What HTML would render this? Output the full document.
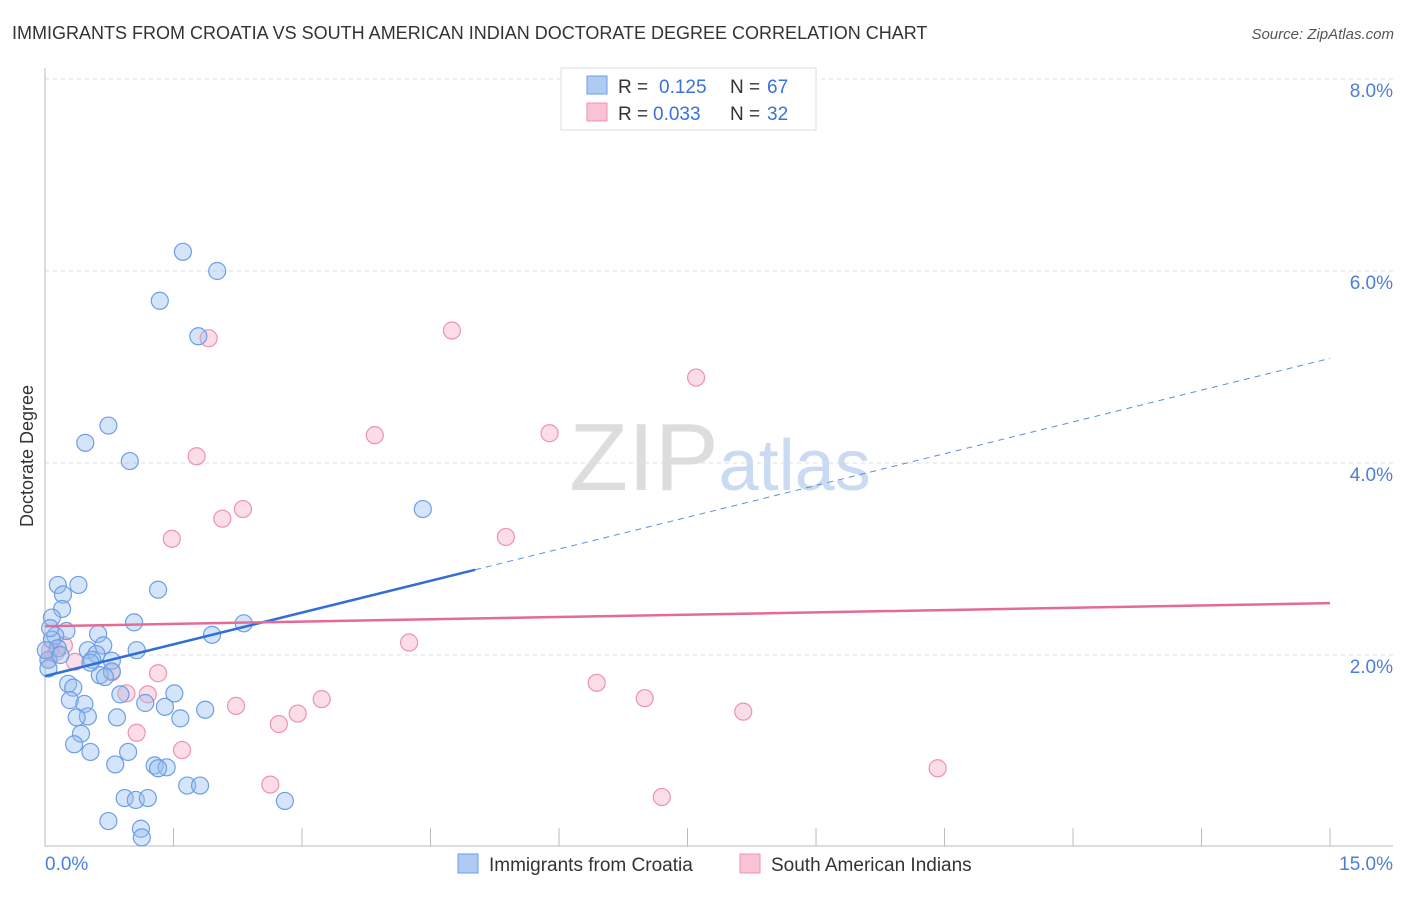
<!DOCTYPE html>
<html><head><meta charset="utf-8">
<style>
body{margin:0;background:#fff;font-family:"Liberation Sans",sans-serif;}
svg text{font-family:"Liberation Sans",sans-serif;}
</style></head>
<body>
<svg id="chart" width="1406" height="892" viewBox="0 0 1406 892" xmlns="http://www.w3.org/2000/svg">
<text x="12" y="39" font-size="18" fill="#333">IMMIGRANTS FROM CROATIA VS SOUTH AMERICAN INDIAN DOCTORATE DEGREE CORRELATION CHART</text>
<text x="1394" y="39" font-size="15" fill="#555" font-style="italic" text-anchor="end">Source: ZipAtlas.com</text>
<text x="720" y="490" font-size="96" text-anchor="middle" fill="#ddd" font-family="Liberation Serif"><tspan fill="#ddd">ZIP</tspan><tspan fill="#c9daf2" font-family="Liberation Sans" font-size="72">atlas</tspan></text>
<g id="grid"></g>
<g id="axes"></g>
<g id="pinkPts"></g>
<g id="bluePts"></g>
<g id="trends"></g>
<text transform="translate(33,456) rotate(-90)" font-size="18" fill="#333" text-anchor="middle">Doctorate Degree</text>
<g>
<rect x="561" y="68" width="255" height="62" fill="#fff" stroke="#ddd"/>
<rect x="587" y="76" width="20" height="18" fill="#aecbf3" stroke="#6d9ee6"/>
<rect x="587" y="103" width="20" height="18" fill="#f8c3d3" stroke="#ee92b0"/>
<text x="618" y="93" font-size="19" fill="#333">R = </text><text x="659" y="93" font-size="19" fill="#3a72d8">0.125</text>
<text x="730" y="93" font-size="19" fill="#333">N = </text><text x="767" y="93" font-size="19" fill="#3a72d8">67</text>
<text x="618" y="120" font-size="19" fill="#333">R = </text><text x="653" y="120" font-size="19" fill="#3a72d8">0.033</text>
<text x="730" y="120" font-size="19" fill="#333">N = </text><text x="767" y="120" font-size="19" fill="#3a72d8">32</text>
</g>
<g>
<rect x="458" y="854" width="20" height="19" fill="#aecbf3" stroke="#6d9ee6"/>
<text x="489" y="871" font-size="19" fill="#333">Immigrants from Croatia</text>
<rect x="740" y="854" width="20" height="19" fill="#f8c3d3" stroke="#ee92b0"/>
<text x="771" y="871" font-size="19" fill="#333">South American Indians</text>
</g>
</svg>
<script>
const blueX=[1.61,2.01,1.34,1.79,0.74,0.47,0.99,4.41,0.15,0.39,1.32,0.21,0.20,0.08,1.04,2.32,0.25,0.12,0.62,1.95,0.68,0.08,0.50,0.15,0.60,1.07,0.55,0.78,0.04,0.64,0.78,0.27,0.33,0.29,0.46,0.88,1.51,1.17,1.40,0.50,0.37,0.84,1.58,1.87,0.42,0.34,0.53,0.97,0.82,1.28,1.42,1.32,1.66,1.81,0.93,1.06,1.20,2.80,0.74,1.12,1.13,0.01,0.06,0.04,0.18,0.53,0.70];
const blueY=[6.20,6.00,5.69,5.32,4.39,4.21,4.02,3.52,2.73,2.73,2.68,2.63,2.48,2.39,2.34,2.33,2.25,2.20,2.22,2.21,2.10,2.16,2.05,2.07,2.01,2.05,1.95,1.94,1.95,1.79,1.83,1.70,1.66,1.53,1.49,1.59,1.60,1.50,1.46,1.36,1.35,1.35,1.34,1.43,1.18,1.07,0.99,0.99,0.86,0.85,0.83,0.82,0.64,0.64,0.51,0.49,0.51,0.48,0.27,0.19,0.10,2.05,2.28,1.86,2.00,1.92,1.77];
const pinkX=[1.91,4.75,7.60,3.85,5.89,1.77,2.31,2.07,1.48,5.38,4.25,0.22,0.13,0.04,0.35,0.78,1.32,6.44,0.95,1.20,3.23,7.00,2.23,2.95,8.15,2.73,1.07,1.60,10.42,2.63,7.20,0.06];
const pinkY=[5.30,5.38,4.89,4.29,4.31,4.07,3.52,3.42,3.21,3.23,2.13,2.10,2.03,1.95,1.93,1.82,1.81,1.71,1.60,1.59,1.54,1.55,1.47,1.39,1.41,1.28,1.19,1.01,0.82,0.65,0.52,2.05];
const blueTrend=[1.78,5.09]; const blueSolidEnd=5.02;
const pinkTrend=[2.30,2.54];
const yTicks=[2,4,6,8];
const yTickLabels=["2.0%","4.0%","6.0%","8.0%"];
const xTicks=[1.5,3,4.5,6,7.5,9,10.5,12,13.5,15];
const xEndLabels=["0.0%","15.0%"];
const NS="http://www.w3.org/2000/svg";
const sx=v=>45+v*85.67, sy=v=>847-v*96;
function mk(tag,attrs,parent){const e=document.createElementNS(NS,tag);for(const k in attrs)e.setAttribute(k,attrs[k]);parent.appendChild(e);return e;}
const grid=document.getElementById('grid'),axes=document.getElementById('axes');
yTicks.forEach((t,i)=>{
 const l=mk('line',{x1:45,x2:1393,y1:sy(t),y2:sy(t),stroke:'#ddd','stroke-dasharray':'4,4'},grid);
 
 
 const tx=mk('text',{x:1393,y:sy(t)+18,'font-size':19,fill:'#4a7fd8','text-anchor':'end'},axes);
 tx.textContent=yTickLabels[i];
 
 
});
const ya=mk('line',{x1:45,x2:45,y1:68,y2:846,stroke:'#bbb'},axes);


const xa=mk('line',{x1:45,x2:1393,y1:846,y2:846,stroke:'#bbb'},axes);


xTicks.forEach(t=>{
 const l=mk('line',{x1:sx(t),x2:sx(t),y1:828,y2:846,stroke:'#bbb'},axes);
 
 
});
const xl0=mk('text',{x:45,y:870,'font-size':19,fill:'#4a7fd8'},axes);xl0.textContent=xEndLabels[0];


const xl1=mk('text',{x:1393,y:870,'font-size':19,fill:'#4a7fd8','text-anchor':'end'},axes);xl1.textContent=xEndLabels[1];


const bp=document.getElementById('bluePts'),pp=document.getElementById('pinkPts');
pinkX.forEach((x,i)=>{
 const c=mk('circle',{cx:sx(x),cy:sy(pinkY[i]),r:8.5,fill:'rgba(244,170,195,0.4)',stroke:'#ee92b0','stroke-width':1.2},pp);
 
 
});
blueX.forEach((x,i)=>{
 const c=mk('circle',{cx:sx(x),cy:sy(blueY[i]),r:8.5,fill:'rgba(150,190,240,0.4)',stroke:'#6d9ee6','stroke-width':1.2},bp);
 
 
});
const tr=document.getElementById('trends');
const by=x=>blueTrend[0]+(blueTrend[1]-blueTrend[0])*x/15;
const t1=mk('line',{x1:sx(0),y1:sy(by(0)),x2:sx(blueSolidEnd),y2:sy(by(blueSolidEnd)),stroke:'#2f6fd6','stroke-width':2.5},tr);


const t2=mk('line',{x1:sx(blueSolidEnd),y1:sy(by(blueSolidEnd)),x2:sx(15),y2:sy(by(15)),stroke:'#5b8fe0','stroke-width':1,'stroke-dasharray':'6,5'},tr);


const t3=mk('line',{x1:sx(0),y1:sy(pinkTrend[0]),x2:sx(15),y2:sy(pinkTrend[1]),stroke:'#e56b97','stroke-width':2.5},tr);


</script>
</body></html>
